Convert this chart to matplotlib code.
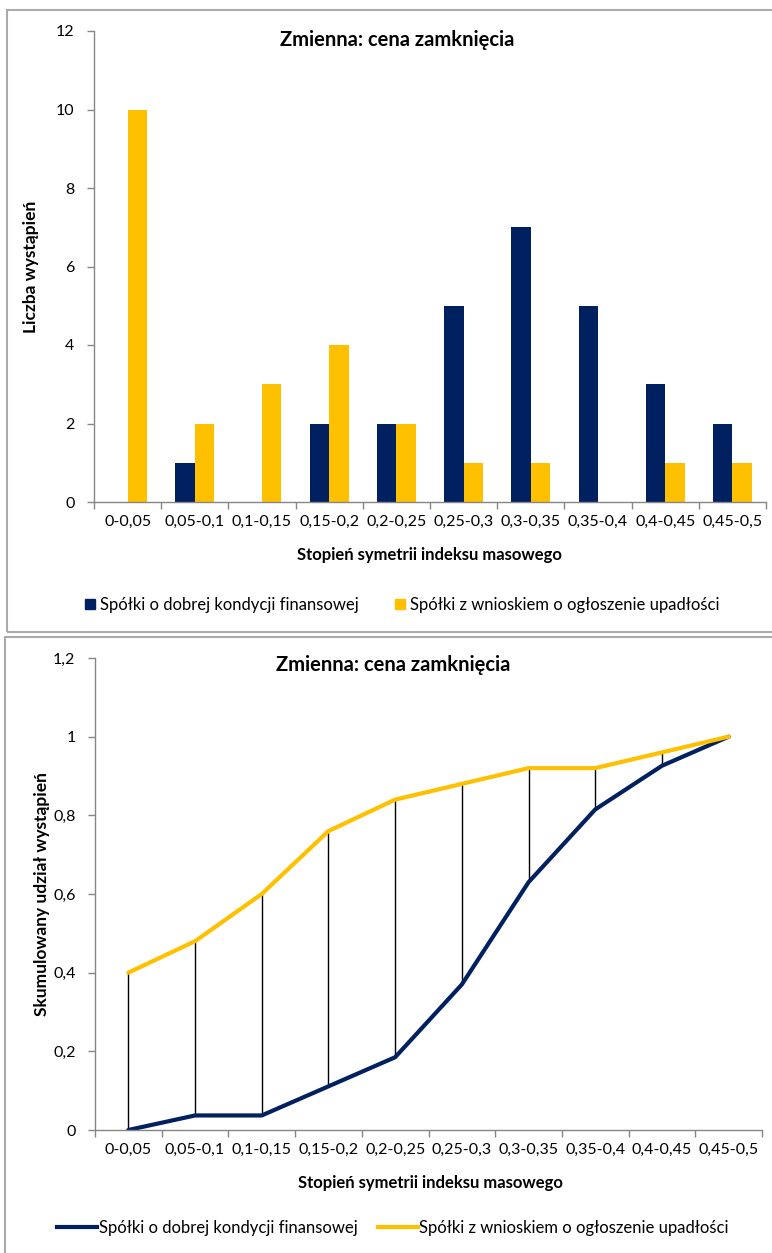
import numpy as np
import matplotlib
matplotlib.use("Agg")
import matplotlib.pyplot as plt
from matplotlib.patches import Rectangle
from matplotlib.lines import Line2D

plt.rcParams['font.family'] = ['Lato', 'DejaVu Sans']

# dane
kategorie = ["0-0,05", "0,05-0,1", "0,1-0,15", "0,15-0,2", "0,2-0,25",
             "0,25-0,3", "0,3-0,35", "0,35-0,4", "0,4-0,45", "0,45-0,5"]
dobre = [0, 1, 0, 2, 2, 5, 7, 5, 3, 2]
upadlosc = [10, 2, 3, 4, 2, 1, 1, 0, 1, 1]
dobre_cum = [0, 0.037, 0.037, 0.111, 0.185, 0.370, 0.630, 0.815, 0.926, 1.0]
upadlosc_cum = [0.40, 0.48, 0.60, 0.76, 0.84, 0.88, 0.92, 0.92, 0.96, 1.0]
yticks_top = [0, 2, 4, 6, 8, 10, 12]
yticks_bot = [0, 0.2, 0.4, 0.6, 0.8, 1.0, 1.2]
yticklabels_bot = ["0", "0,2", "0,4", "0,6", "0,8", "1", "1,2"]

granat = "#002060"
zolty = "#FFC000"
szary = "#868686"
tytul = "Zmienna: cena zamknięcia"
xlab = "Stopień symetrii indeksu masowego"
leg1 = "Spółki o dobrej kondycji finansowej"
leg2 = "Spółki z wnioskiem o ogłoszenie upadłości"

W, H = 772, 1253
fig = plt.figure(figsize=(W / 100, H / 100), dpi=100)

def fx(px):
    return px / W

def fy(py):
    return 1 - py / H

# ramki paneli
fig.patches.append(Rectangle((fx(7), fy(632)), fx(800), fy(10) - fy(632), transform=fig.transFigure,
                             fill=False, edgecolor="#ABABAB", lw=1.5))
fig.patches.append(Rectangle((fx(5), fy(1260)), fx(800), fy(637) - fy(1260), transform=fig.transFigure,
                             fill=False, edgecolor="#ABABAB", lw=1.5))

def styl(ax):
    for s in ["top", "right"]:
        ax.spines[s].set_visible(False)
    for s in ["left", "bottom"]:
        ax.spines[s].set_color(szary)
        ax.spines[s].set_linewidth(1)
    ax.tick_params(axis="both", colors=szary, length=5, width=1, labelcolor="black", labelsize=11.5)
    ax.tick_params(axis="y", pad=9)
    ax.set_xlim(0, len(kategorie))
    ax.set_xticks(np.arange(len(kategorie) + 1))
    ax.set_xticklabels([])
    for i, k in enumerate(kategorie):
        ax.text(i + 0.5, -0.027, k, transform=ax.get_xaxis_transform(), ha="center", va="top", fontsize=11.5)

# --- wykres 1: histogram
ax1 = fig.add_axes([fx(94), fy(502), fx(766) - fx(94), fy(31) - fy(502)])
x = np.arange(len(kategorie)) + 0.5
bw = 0.29
ax1.bar(x - bw / 2, dobre, bw, color=granat, label=leg1)
ax1.bar(x + bw / 2, upadlosc, bw, color=zolty, label=leg2)
ax1.set_ylim(0, 12)
ax1.set_yticks(yticks_top)
styl(ax1)
ax1.set_ylabel("Liczba wystąpień", fontsize=12.5, fontweight="bold")
ax1.yaxis.set_label_coords((39 - 94) / 672, 0.5)
fig.text(fx(397), fy(40), tytul, ha="center", va="center", fontsize=14.5, fontweight="bold")
fig.text(fx(429), fy(555), xlab, ha="center", va="center", fontsize=12, fontweight="bold")
fig.legend(handles=[Rectangle((0, 0), 1, 1, color=granat), Rectangle((0, 0), 1, 1, color=zolty)],
           labels=[leg1, leg2], loc="center", bbox_to_anchor=(fx(402), fy(605)), ncol=2, frameon=False,
           fontsize=12, handlelength=0.6, handleheight=0.6, handletextpad=0.3, columnspacing=2.2)

# --- wykres 2: skumulowany
ax2 = fig.add_axes([fx(95), fy(1130), fx(762) - fx(95), fy(658) - fy(1130)])
ax2.vlines(x, dobre_cum, upadlosc_cum, color="black", lw=1)
ax2.plot(x, dobre_cum, color=granat, lw=3, solid_capstyle="round", solid_joinstyle="round")
ax2.plot(x, upadlosc_cum, color=zolty, lw=3, solid_capstyle="round", solid_joinstyle="round")
ax2.set_ylim(0, 1.2)
ax2.set_yticks(yticks_bot)
ax2.set_yticklabels(yticklabels_bot)
styl(ax2)
ax2.set_ylabel("Skumulowany udział wystąpień", fontsize=12.5, fontweight="bold")
ax2.yaxis.set_label_coords((50 - 95) / 667, 0.5)
fig.text(fx(393), fy(665), tytul, ha="center", va="center", fontsize=14.5, fontweight="bold")
fig.text(fx(430), fy(1183), xlab, ha="center", va="center", fontsize=12, fontweight="bold")
fig.legend(handles=[Line2D([], [], color=granat, lw=3), Line2D([], [], color=zolty, lw=3)],
           labels=[leg1, leg2], loc="center", bbox_to_anchor=(fx(393), fy(1228)), ncol=2, frameon=False,
           fontsize=12, handlelength=2.4, handletextpad=0.1, columnspacing=1.2)

fig.savefig("out.png", dpi=100)
